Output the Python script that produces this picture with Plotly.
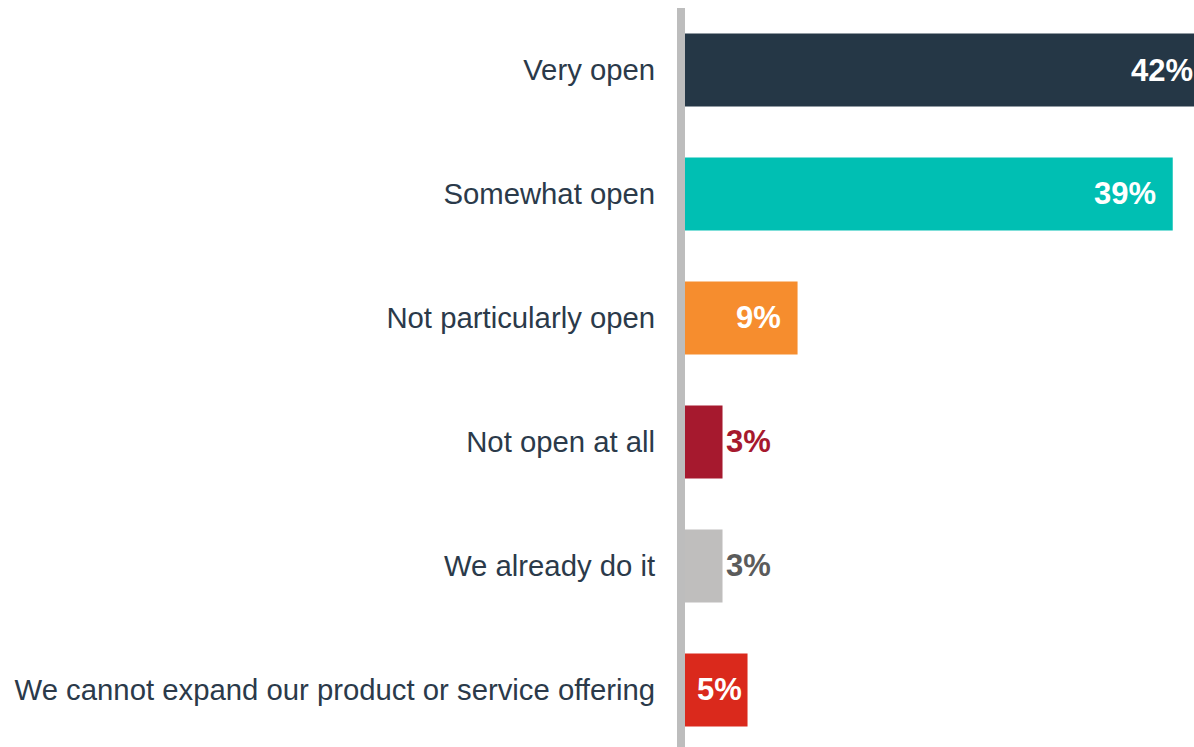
import plotly.graph_objects as go

# Survey responses: openness to expanding the product or service offering
categories = [
    "Very open",
    "Somewhat open",
    "Not particularly open",
    "Not open at all",
    "We already do it",
    "We cannot expand our product or service offering",
]
shares = [42, 39, 9, 3, 3, 5]
bar_colors = ["#253746", "#00BFB3", "#F68D2E", "#A6192E", "#BFBEBD", "#DA291C"]
label_colors = ["#FFFFFF", "#FFFFFF", "#FFFFFF", "#A6192E", "#5B5B5B", "#FFFFFF"]
labels_inside = [True, True, True, False, False, True]

W, H = 1194, 747
LEFT = 685
XMAX = 40.7          # longest bar runs past the right edge
Y_SPAN = 5.96        # category units shown vertically

fig = go.Figure(
    go.Bar(
        x=shares,
        y=categories,
        orientation="h",
        marker=dict(color=bar_colors, line=dict(width=0)),
        width=0.59,
        hoverinfo="skip",
    )
)

annotations = []
for cat, v, col, inside in zip(categories, shares, label_colors, labels_inside):
    xp = v / XMAX
    if inside and v >= 6:
        ann = dict(x=xp, xanchor="right", xshift=-15)
    elif inside:
        ann = dict(x=xp / 2, xanchor="center", xshift=3)
    else:
        ann = dict(x=xp, xanchor="left", xshift=1)
    ann.update(
        xref="paper",
        y=cat,
        yref="y",
        yanchor="middle",
        text=f"<b>{v}%</b>",
        showarrow=False,
        font=dict(family="Liberation Sans, Arial, sans-serif", size=31, color=col),
    )
    annotations.append(ann)

fig.update_layout(
    width=W,
    height=H,
    margin=dict(l=LEFT, r=0, t=8, b=0),
    paper_bgcolor="white",
    plot_bgcolor="white",
    showlegend=False,
    annotations=annotations,
    xaxis=dict(
        range=[0, XMAX],
        visible=False,
        fixedrange=True,
    ),
    yaxis=dict(
        type="category",
        categoryorder="array",
        categoryarray=categories,
        range=[-0.5 + Y_SPAN, -0.5],
        showline=True,
        linewidth=8,
        linecolor="#BDBDBD",
        showgrid=False,
        zeroline=False,
        ticks="",
        ticklabelstandoff=16,
        tickfont=dict(family="Liberation Sans, Arial, sans-serif", size=29.3, color="#2B3A4A"),
        fixedrange=True,
    ),
)

fig.write_html("out.html")
